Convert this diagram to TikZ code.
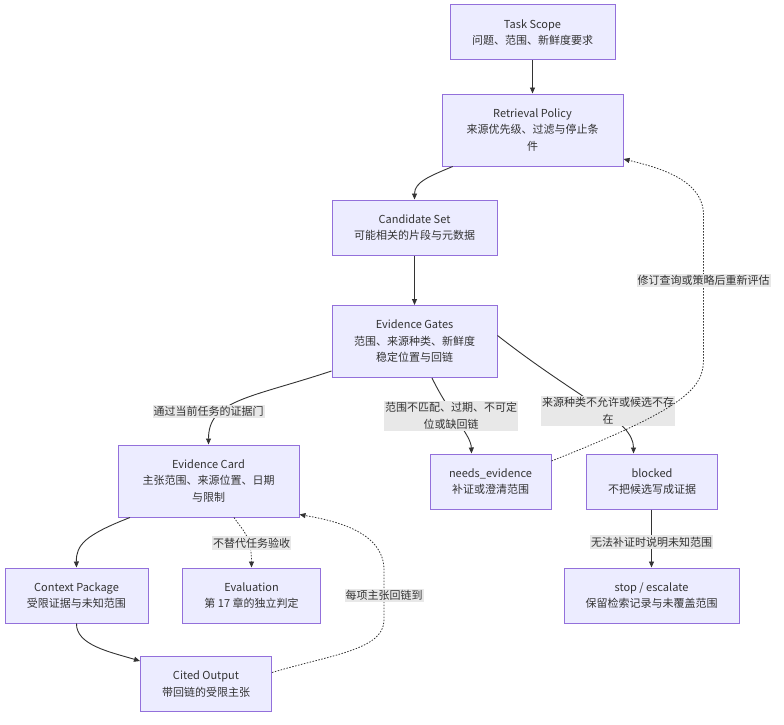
\documentclass[tikz,border=0pt]{standalone}
\usepackage{fontspec}
\setmainfont{Noto Sans CJK SC}
\usetikzlibrary{arrows.meta}
\definecolor{nodefill}{HTML}{ECECFF}
\definecolor{nodedraw}{HTML}{9370DB}
\definecolor{edgecol}{HTML}{333333}
\definecolor{lblbg}{HTML}{E8E8E8}
\tikzset{
  box/.style={draw=nodedraw, fill=nodefill, line width=1pt, align=center,
    text=edgecol, font=\fontsize{11}{16.5}\selectfont, inner sep=0pt},
  conn/.style={draw=edgecol, line width=0.9pt, -{Triangle[length=6pt,width=5pt]}},
  dotconn/.style={conn, dash pattern=on 1.5pt off 1.5pt, line width=0.8pt},
  lbl/.style={fill=lblbg, text=edgecol, align=center,
    font=\fontsize{11}{17.5}\selectfont, inner xsep=1pt, inner ysep=1.5pt}
}
\begin{document}
\begin{tikzpicture}[x=1pt,y=-1pt]
\useasboundingbox (0,0) rectangle (784,725);
\node[box, minimum width=165pt, minimum height=55pt] (ts) at (532.5,32.5) {Task Scope\\问题、范围、新鲜度要求};
\node[box, minimum width=181pt, minimum height=72pt] (rp) at (532.5,130) {Retrieval Policy\\来源优先级、过滤与停止条\\件};
\node[box, minimum width=165pt, minimum height=55pt] (cs) at (414.5,227.5) {Candidate Set\\可能相关的片段与元数据};
\node[box, minimum width=165pt, minimum height=72pt] (eg) at (414.5,341.5) {Evidence Gates\\范围、来源种类、新鲜度\\稳定位置与回链};
\node[box, minimum width=181pt, minimum height=72pt] (ec) at (208.5,481) {Evidence Card\\主张范围、来源位置、日期\\与限制};
\node[box, minimum width=121pt, minimum height=55pt] (ne) at (490.5,481.5) {needs\_evidence\\补证或澄清范围};
\node[box, minimum width=131pt, minimum height=55pt] (bl) at (652,481.5) {blocked\\不把候选写成证据};
\node[box, minimum width=143pt, minimum height=55pt] (cp) at (76.5,595.5) {Context Package\\受限证据与未知范围};
\node[box, minimum width=138pt, minimum height=55pt] (ev) at (251.5,595.5) {Evaluation\\第 17 章的独立判定};
\node[box, minimum width=175pt, minimum height=55pt] (se) at (651.5,595.5) {stop / escalate\\保留检索记录与未覆盖范围};
\node[box, minimum width=131pt, minimum height=55pt] (co) at (206,684) {Cited Output\\带回链的受限主张};

% edges
\draw[conn] (ts.south) -- (rp.north);
\draw[conn] ([xshift=-79.8pt]rp.south) .. controls (430,176) and (414.5,182) .. (cs.north);
\draw[conn] (cs.south) -- (eg.north);

\draw[conn] ([yshift=7pt]eg.south west) .. controls (250,398) and (208.5,400) .. (ec.north);
\node[lbl] (l1) at (208.5,411.5) {通过当前任务的证据门};

\draw[conn] ([xshift=17.5pt]eg.south) .. controls (450,415) and (471,435) .. ([xshift=-19pt]ne.north);
\node[lbl] (l2) at (451,416) {范围不匹配、过期、不可定\\位或缺回链};

\draw[conn] ([yshift=6pt]eg.east) .. controls (580,400) and (633.5,420) .. ([xshift=-18.5pt]bl.north);
\node[lbl] (l3) at (608,411) {来源种类不允许或候选不存\\在};

\coordinate (d1) at (703.5,360);
\coordinate (d2) at (703.5,215);
\draw[dotconn] ([yshift=-7.5pt]ne.north east) .. controls (680,410) and (703.5,390) .. (d1) -- (d2) .. controls (703.5,180) and (660,168) .. ([yshift=-29pt]rp.east);
\node[lbl] (l4) at (703.5,280.5) {修订查询或策略后重新评估};

\draw[conn] ([xshift=12.5pt]ec.south west) .. controls (85,535) and (76,545) .. (cp.north);
\draw[dotconn] ([xshift=25.5pt]ec.south) .. controls (242,530) and (251.5,535) .. (ev.north);
\node[lbl] (l5) at (251.5,543) {不替代任务验收};

\draw[conn] (cp.south) .. controls (76,645) and (110,652) .. ([yshift=-5pt]co.north west);

\coordinate (e1) at (384,620);
\coordinate (e2) at (384,570);
\draw[dotconn] ([yshift=11.5pt]co.east) .. controls (330,655) and (384,650) .. (e1) -- (e2) .. controls (384,530) and (330,520) .. ([yshift=3pt]ec.south east);
\node[lbl] (l6) at (384,595.5) {每项主张回链到};

\draw[conn] ([xshift=-0.5pt]bl.south) -- (se.north);
\node[lbl] (l7) at (651.5,542) {无法补证时说明未知范围};
\end{tikzpicture}
\end{document}
